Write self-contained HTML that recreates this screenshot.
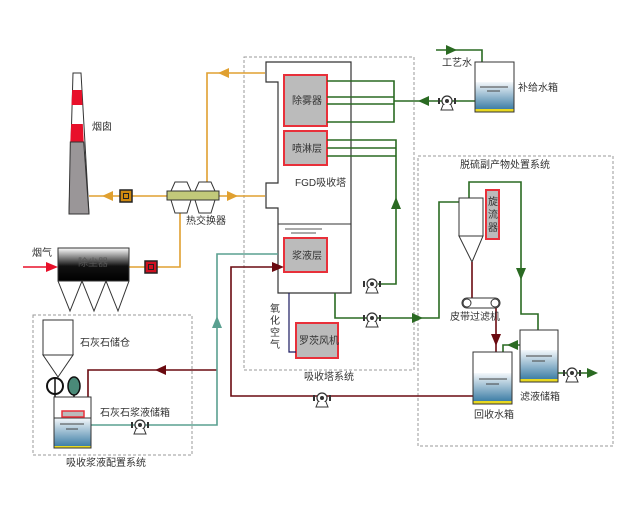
<!DOCTYPE html>
<html><head><meta charset="utf-8"><style>
body{margin:0;background:#fff}
svg{display:block}
text{font-family:"Liberation Sans","Noto Sans CJK SC",sans-serif;font-size:10px;fill:#333}
</style></head><body>
<svg width="644" height="510" viewBox="0 0 644 510" xmlns="http://www.w3.org/2000/svg">
<defs>
<linearGradient id="w" x1="0" y1="0" x2="0" y2="1"><stop offset="0" stop-color="#f4f8fb"/><stop offset="1" stop-color="#3f7fa6"/></linearGradient>
<linearGradient id="dc" x1="0" y1="0" x2="0" y2="1"><stop offset="0" stop-color="#fff"/><stop offset="0.55" stop-color="#111"/><stop offset="1" stop-color="#000"/></linearGradient>
<g id="pump"><circle cx="0" cy="0" r="5" fill="#fff" stroke="#333" stroke-width="1.2"/><circle cx="0" cy="0" r="2" fill="#333"/><path d="M-4 4 L-6 9 L6 9 L4 4" fill="#fff" stroke="#333"/><rect x="-9" y="-3" width="2" height="6" fill="#333"/><rect x="7" y="-3" width="2" height="6" fill="#333"/></g>
</defs>
<g fill="none" stroke="#999" stroke-dasharray="3,2" stroke-width="1">
<rect x="244" y="57" width="170" height="313"/>
<rect x="418" y="156" width="195" height="290"/>
<rect x="33" y="315" width="159" height="140"/>
</g>
<!-- chimney -->
<polygon points="73,73 81,73 89,214 69,214" fill="#fff" stroke="#333"/>
<polygon points="72.2,90 81.8,90 82.5,105 71.5,105" fill="#e8102a"/>
<polygon points="71.2,124 82.8,124 83.7,142 70.3,142" fill="#e8102a"/>
<polygon points="70.3,142 83.7,142 89,214 69,214" fill="#9a9698" stroke="#333"/>
<text x="92" y="130">烟囱</text>
<!-- orange lines -->
<g stroke="#e0a030" stroke-width="1.6" fill="none">
<polyline points="89,196 265,196"/>
<polyline points="207,182 207,73 265,73"/>
<polyline points="129,267 180,267 180,213"/>
</g>
<g fill="#e0a030">
<polygon points="102,196 113,191 113,201"/>
<polygon points="238,196 227,191 227,201"/>
<polygon points="218,73 229,68 229,78"/>
<polygon points="180,199 175,210 185,210"/>
</g>
<rect x="120" y="190" width="12" height="12" fill="#d08a10" stroke="#222" stroke-width="1.5"/><rect x="123.5" y="193.5" width="5" height="5" fill="none" stroke="#222"/>
<!-- heat exchanger -->
<g fill="#fff" stroke="#333"><polygon points="175,182 187,182 191,191 171,191"/><polygon points="199,182 211,182 215,191 195,191"/><polygon points="171,200 191,200 187,213 175,213"/><polygon points="195,200 215,200 211,213 199,213"/></g>
<rect x="167" y="191" width="52" height="9" fill="#c2c97a" stroke="#333"/>
<text x="186" y="224">热交换器</text>
<!-- dust collector -->
<text x="32" y="256">烟气</text>
<line x1="23" y1="267" x2="50" y2="267" stroke="#e8102a" stroke-width="1.6"/><polygon points="58,267 46,262 46,272" fill="#e8102a"/>
<rect x="58" y="248" width="71" height="33" fill="url(#dc)" stroke="#333"/>
<text x="78" y="266" style="fill:#555">除尘器</text>
<polyline points="58,281 70,311 82,281 94,311 106,281 118,311 129,281" fill="none" stroke="#333"/>
<rect x="145" y="261" width="12" height="12" fill="#d01020" stroke="#222" stroke-width="1.5"/><rect x="148.5" y="264.5" width="5" height="5" fill="none" stroke="#222"/>
<!-- tower -->
<path d="M266,62 H351 V293 H278 V208 H266 V183 H278 V82 H266 Z" fill="#fff" stroke="#333" stroke-width="1.2"/>
<line x1="278" y1="224" x2="351" y2="224" stroke="#333"/>
<line x1="285" y1="229" x2="322" y2="229" stroke="#555"/><line x1="291" y1="233" x2="316" y2="233" stroke="#555"/>
<g fill="#bbb" stroke="#e8303a" stroke-width="2"><rect x="284" y="75" width="43" height="51"/><rect x="284" y="131" width="43" height="34"/><rect x="284" y="238" width="43" height="34"/><rect x="296" y="323" width="42" height="35"/><rect x="486" y="190" width="13" height="49"/></g>
<text x="292" y="104">除雾器</text><text x="292" y="152">喷淋层</text><text x="292" y="259">浆液层</text><text x="299" y="344">罗茨风机</text>
<text x="295" y="186">FGD吸收塔</text>
<text x="488" y="205">旋</text><text x="488" y="218">流</text><text x="488" y="231">器</text>
<!-- green lines -->
<g stroke="#2a6a22" stroke-width="1.6" fill="none">
<polyline points="327,81 394,81 394,122 327,122"/><line x1="327" y1="97" x2="394" y2="97"/><line x1="327" y1="104" x2="394" y2="104"/>
<polyline points="394,101 475,101"/>
<polyline points="327,140 396,140 396,284 378,284"/><line x1="327" y1="148" x2="396" y2="148"/><line x1="327" y1="156" x2="396" y2="156"/>
<polyline points="436,50 482,50 482,62"/>
<polyline points="335,293 335,318 439,318 439,202 459,202"/>
<polyline points="469,198 469,182 521,182 521,314 538,314 538,330"/>
<polyline points="520,345 503,345 503,352"/>
<polyline points="558,373 590,373"/>
</g>
<g fill="#2a6a22">
<polygon points="418,101 429,96 429,106"/>
<polygon points="457,50 446,45 446,55"/>
<polygon points="396,197 391,209 401,209"/>
<polygon points="423,318 412,313 412,323"/>
<polygon points="521,280 516,268 526,268"/>
<polygon points="507,345 518,340 518,350"/>
<polygon points="598,373 587,368 587,378"/>
</g>
<use href="#pump" x="447" y="101"/><use href="#pump" x="372" y="284"/><use href="#pump" x="372" y="318"/><use href="#pump" x="572" y="373"/>
<!-- makeup tank -->
<text x="442" y="66">工艺水</text>
<rect x="475" y="62" width="39" height="50" fill="#fff" stroke="#333"/>
<rect x="475" y="82" width="39" height="27" fill="url(#w)"/><rect x="475" y="109" width="39" height="3" fill="#e8d820"/>
<rect x="475" y="62" width="39" height="50" fill="none" stroke="#333"/>
<line x1="480" y1="87" x2="508" y2="87" stroke="#444"/><line x1="487" y1="91" x2="500" y2="91" stroke="#444"/>
<text x="518" y="91">补给水箱</text>
<!-- blue air -->
<polyline points="289,293 289,352 296,352" fill="none" stroke="#1a1a60" stroke-width="1.2"/>
<text x="270" y="312">氧</text><text x="270" y="324">化</text><text x="270" y="336">空</text><text x="270" y="348">气</text>
<text x="304" y="380">吸收塔系统</text>
<!-- product system -->
<text x="460" y="168">脱硫副产物处置系统</text>
<rect x="459" y="198" width="24" height="38" fill="#fff" stroke="#333"/>
<polygon points="459,236 483,236 472,262" fill="#fff" stroke="#333"/>
<g stroke="#6a0a10" stroke-width="1.6" fill="none">
<line x1="472" y1="262" x2="472" y2="298"/>
<line x1="496" y1="308" x2="496" y2="352"/>
<polyline points="473,396 231,396 231,267 276,267"/>
<polyline points="217,370 88,370 88,397"/>
</g>
<g fill="#6a0a10">
<polygon points="496,346 491,334 501,334"/>
<polygon points="284,267 272,262 272,272"/>
<polygon points="155,370 166,365 166,375"/>
</g>
<rect x="462" y="298" width="38" height="10" rx="5" fill="#fff" stroke="#333"/>
<circle cx="467" cy="303" r="4" fill="#fff" stroke="#333"/><circle cx="495" cy="303" r="4" fill="#fff" stroke="#333"/>
<text x="450" y="320">皮带过滤机</text>
<g>
<rect x="473" y="352" width="39" height="52" fill="#fff"/><rect x="473" y="373" width="39" height="28" fill="url(#w)"/><rect x="473" y="401" width="39" height="3" fill="#e8d820"/>
<rect x="473" y="352" width="39" height="52" fill="none" stroke="#333"/>
<line x1="479" y1="379" x2="507" y2="379" stroke="#444"/><line x1="486" y1="384" x2="499" y2="384" stroke="#444"/>
<rect x="520" y="330" width="38" height="52" fill="#fff"/><rect x="520" y="350" width="38" height="29" fill="url(#w)"/><rect x="520" y="379" width="38" height="3" fill="#e8d820"/>
<rect x="520" y="330" width="38" height="52" fill="none" stroke="#333"/>
<line x1="526" y1="356" x2="552" y2="356" stroke="#444"/><line x1="532" y1="361" x2="545" y2="361" stroke="#444"/>
</g>
<text x="474" y="418">回收水箱</text><text x="520" y="400">滤液储箱</text>
<use href="#pump" x="322" y="398"/>
<!-- teal -->
<polyline points="91,425 217,425 217,254 278,254" fill="none" stroke="#5aa090" stroke-width="1.6"/>
<polygon points="217,316 212,328 222,328" fill="#5aa090"/>
<use href="#pump" x="140" y="425"/>
<!-- slurry prep -->
<rect x="43" y="320" width="30" height="35" fill="#fff" stroke="#333"/>
<polygon points="43,355 73,355 58,377" fill="#fff" stroke="#333"/>
<text x="80" y="346">石灰石储仓</text>
<circle cx="55" cy="386" r="8" fill="#fff" stroke="#111" stroke-width="2"/><line x1="55" y1="378" x2="55" y2="397" stroke="#111" stroke-width="1.5"/>
<ellipse cx="74" cy="386" rx="6" ry="9" fill="#4a8a78" stroke="#111" stroke-width="1.5"/><line x1="74" y1="395" x2="74" y2="411" stroke="#111" stroke-width="1.5"/>
<rect x="54" y="397" width="37" height="51" fill="#fff"/><rect x="54" y="418" width="37" height="28" fill="url(#w)"/><rect x="54" y="446" width="37" height="2" fill="#e8d820"/>
<rect x="54" y="397" width="37" height="51" fill="none" stroke="#333"/>
<line x1="54" y1="418" x2="91" y2="418" stroke="#333"/>
<rect x="62" y="411" width="22" height="6" fill="#bbb" stroke="#e8303a" stroke-width="1.5"/>
<line x1="60" y1="424" x2="84" y2="424" stroke="#444"/><line x1="66" y1="429" x2="78" y2="429" stroke="#444"/>
<text x="100" y="416">石灰石浆液储箱</text>
<text x="66" y="466">吸收浆液配置系统</text>
</svg>
</body></html>
